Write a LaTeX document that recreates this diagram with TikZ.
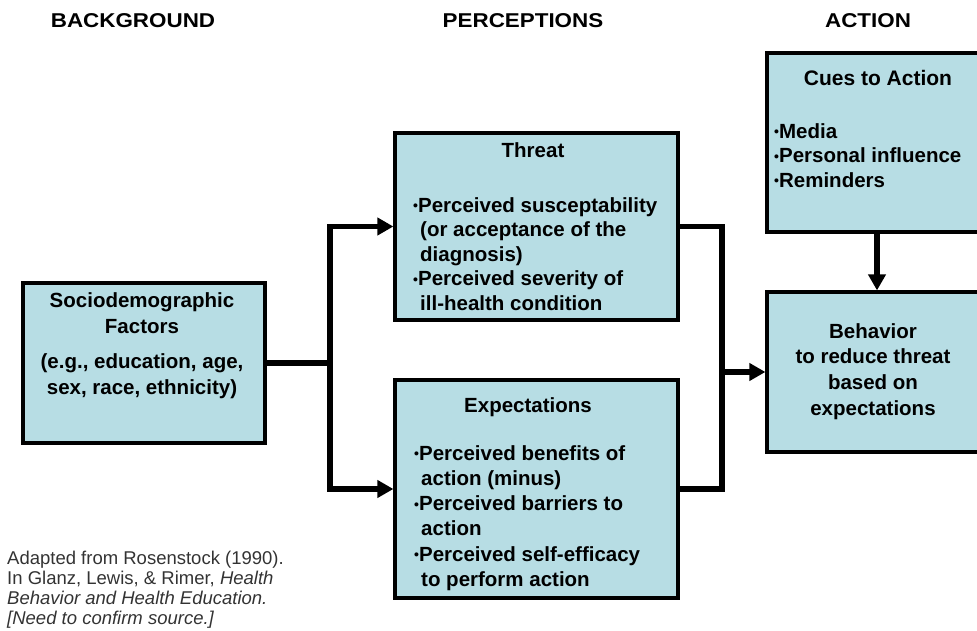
\documentclass[tikz,border=0pt]{standalone}
\usepackage{fontspec}
\usepackage{graphicx}
\setmainfont{Liberation Sans}
\usetikzlibrary{arrows.meta}
\definecolor{boxblue}{HTML}{B7DDE4}
\definecolor{notegray}{HTML}{333333}
\newcommand{\bul}{\raisebox{1.5pt}{\fontsize{14}{14}\selectfont•}}
\newcommand{\cont}{\hspace*{7pt}}
\tikzset{
  box/.style={draw=black, line width=3.2pt, fill=boxblue, inner sep=0pt},
  conn/.style={line width=5.5pt, line cap=rect, line join=miter},
  arr/.style={-{Triangle[length=16pt,width=17pt]}},
  head/.style={font=\fontsize{20}{20}\selectfont\bfseries, inner sep=0pt, anchor=base},
  btitle/.style={font=\fontsize{20.5}{24}\selectfont\bfseries, inner sep=0pt, anchor=base},
  blist/.style={font=\fontsize{20.5}{24.5}\selectfont\bfseries, inner sep=0pt, anchor=north west, align=left},
}
\begin{document}
\begin{tikzpicture}[x=1pt,y=-1pt]
\useasboundingbox (0,0) rectangle (977,631);
% headings
\node[head] (hbg) at (133,28) {\scalebox{1.12}[1]{BACKGROUND}};
\node[head] (hpc) at (523,28) {\scalebox{1.12}[1]{PERCEPTIONS}};
\node[head] (hac) at (868,28) {\scalebox{1.12}[1]{ACTION}};
% boxes
\node[box, minimum width=242pt, minimum height=160pt] (socio) at (144,363) {};
\node[box, minimum width=283pt, minimum height=187pt] (threat) at (536.5,226.5) {};
\node[box, minimum width=283pt, minimum height=218pt] (expect) at (536.5,489) {};
\node[box, minimum width=220pt, minimum height=179pt] (cues) at (877,142.5) {};
\node[box, minimum width=220pt, minimum height=160pt] (behav) at (877,372) {};
% texts
\node[blist, anchor=north, align=center, font=\fontsize{20.5}{26}\selectfont\bfseries] (sociot) at (142,292)
  {Sociodemographic\\Factors\\[9pt](e.g., education, age,\\sex, race, ethnicity)};
\node[btitle] (threath) at (533,158) {Threat};
\node[blist] (threatl) at (413,197)
  {\bul Perceived susceptability\\\cont (or acceptance of the\\\cont diagnosis)\\\bul Perceived severity of\\\cont ill-health condition};
\node[btitle] (expecth) at (528,412) {Expectations};
\node[blist, font=\fontsize{20.5}{25.3}\selectfont\bfseries] (expectl) at (414,445)
  {\bul Perceived benefits of\\\cont action (minus)\\\bul Perceived barriers to\\\cont action\\\bul Perceived self-efficacy\\\cont to perform action};
\node[btitle, font=\fontsize{21}{24}\selectfont\bfseries] (cuesh) at (878,86) {Cues to Action};
\node[blist] (cuesl) at (774,123)
  {\bul Media\\\bul Personal influence\\\bul Reminders};
\node[blist, anchor=north, align=center, font=\fontsize{20.5}{25.7}\selectfont\bfseries] (behavt) at (873,323)
  {Behavior\\to reduce threat\\based on\\expectations};
\node[inner sep=0pt, anchor=north west, align=left, font=\fontsize{18.5}{20}\selectfont, text=notegray] (note) at (7,551)
  {Adapted from Rosenstock (1990).\\In Glanz, Lewis, \& Rimer, \textit{Health}\\\textit{Behavior and Health Education.}\\\textit{[Need to confirm source.]}};
% connectors
\coordinate (jL) at (330,363);
\coordinate (jR) at (722,372);
\draw[conn] (socio.east) -- (jL);
\draw[conn, arr] (jL |- expect.west) -- (jL |- threat.west) -- (threat.west);
\draw[conn, arr] (jL |- expect.west) -- (expect.west);
\draw[conn] (threat.east) -- (jR |- threat.east) -- (jR |- expect.east) -- (expect.east);
\draw[conn, arr] (jR) -- (behav.west);
\draw[conn, arr] (cues.south) -- (behav.north);
\end{tikzpicture}
\end{document}
